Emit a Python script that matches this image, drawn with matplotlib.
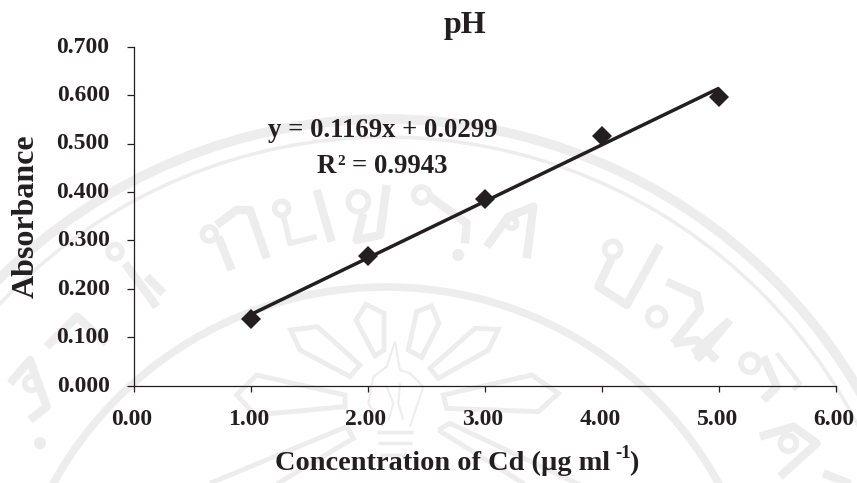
import numpy as np
import matplotlib
matplotlib.use("Agg")
import matplotlib.pyplot as plt
from matplotlib.patches import Circle, Polygon
from matplotlib.transforms import ScaledTranslation

W, H = 857, 483

# values
conc = [1.0, 2.0, 3.0, 4.0, 5.0]
absorbance = [0.137, 0.268, 0.385, 0.515, 0.597]
fit_x = [1.0, 5.0]
fit_y = [0.1468, 0.6144]
x_ticks = [0, 1, 2, 3, 4, 5, 6]
y_ticks = [0, 0.1, 0.2, 0.3, 0.4, 0.5, 0.6, 0.7]

plt.rcParams['font.family'] = ['Liberation Serif', 'DejaVu Serif']
plt.rcParams['font.weight'] = 'bold'

ink = '#231f20'
wm = '#ededed'

fig = plt.figure(figsize=(W / 100, H / 100), dpi=100)

# watermark layer, in pixel coordinates
bg = fig.add_axes([0, 0, 1, 1], zorder=0)
bg.set_xlim(0, W)
bg.set_ylim(H, 0)
bg.axis('off')
cx, cy = 386, 667
bg.add_patch(Circle((cx, cy), 548, fill=False, ec=wm, lw=7))
bg.add_patch(Circle((cx, cy), 530, fill=False, ec=wm, lw=2.5))
bg.add_patch(Circle((cx, cy), 380, fill=False, ec=wm, lw=5.5))

def petal(pts):
    pts = [(230 + a / 3, 270 + b / 3) for a, b in pts]
    bg.add_patch(Polygon(pts, closed=True, fill=False, ec=wm, lw=3.5, joinstyle='miter'))

petal([(378, 150), (408, 103), (462, 130), (462, 240), (435, 258)])
petal([(535, 240), (560, 125), (605, 108), (627, 160), (575, 262)])
petal([(182, 180), (262, 170), (390, 285), (360, 320), (210, 240)])
petal([(600, 295), (735, 175), (805, 178), (775, 240), (625, 325)])
petal([(20, 375), (80, 315), (345, 375), (345, 410), (75, 435)])
petal([(640, 375), (905, 315), (985, 370), (925, 425), (650, 415)])
petal([(-60, 640), (350, 470), (370, 505), (60, 690)])
petal([(625, 480), (660, 460), (1040, 640), (960, 690)])

# torch
def stroke(x0, y0, pts, lw=6):
    pts = np.array(pts, dtype=float)
    bg.plot(x0 + pts[:, 0] / 3, y0 + pts[:, 1] / 3, color=wm, lw=lw, solid_capstyle='butt', solid_joinstyle='round')

def loop(x0, y0, a, b, r, lw=4):
    bg.add_patch(Circle((x0 + a / 3, y0 + b / 3), r, fill=False, ec=wm, lw=lw))

stroke(230, 270, [(495, 215), (470, 290), (430, 320), (415, 400), (460, 470)], 1.5)
stroke(230, 270, [(495, 215), (510, 300), (540, 310), (580, 350), (540, 470)], 1.5)
stroke(230, 270, [(470, 350), (490, 400), (475, 450)], 1.5)
stroke(230, 270, [(510, 340), (505, 400), (520, 450)], 1.5)
stroke(230, 270, [(440, 485), (550, 485)], 2.5)
stroke(230, 270, [(445, 520), (545, 520)], 2.5)
stroke(230, 270, [(450, 555), (540, 555)], 2.5)

# letters of the seal, upper left (crop x0=150, y0=160, 3x)
loop(150, 160, 178, 222, 7)
stroke(150, 160, [(200, 195), (260, 150), (300, 150), (350, 295)])
stroke(150, 160, [(205, 230), (245, 330)])
loop(150, 160, 395, 145, 7)
stroke(150, 160, [(400, 165), (420, 250), (500, 230)], 4)
stroke(150, 160, [(500, 90), (545, 245)])
loop(150, 160, 625, 125, 10)
stroke(150, 160, [(640, 160), (620, 240), (690, 225), (710, 75)])
loop(150, 160, 815, 105, 8)
stroke(150, 160, [(840, 110), (950, 190), (945, 250)])
bg.add_patch(Circle((150 + 925 / 3, 160 + 285 / 3), 6, color=wm, lw=0))
stroke(150, 160, [(1010, 260), (1075, 170), (1150, 140), (1130, 295)])
loop(150, 160, 1085, 190, 5)

# letters, upper right (crop x0=540, y0=170, 3x)
loop(540, 170, 218, 238, 8)
stroke(540, 170, [(215, 265), (175, 350), (260, 405), (360, 225)])
stroke(540, 170, [(380, 335), (470, 375), (480, 420), (400, 520)])
loop(540, 170, 350, 440, 9)
stroke(540, 170, [(400, 520), (470, 510), (530, 570)])
stroke(540, 170, [(570, 450), (470, 570)])

# letters further down on the right (crop x0=430, y0=240, 3x)
stroke(430, 240, [(890, 250), (790, 340)])
loop(430, 240, 960, 370, 9)
stroke(430, 240, [(1000, 350), (1040, 440), (1000, 480)])
stroke(430, 240, [(1040, 340), (1110, 430), (1090, 450)], 3)
stroke(430, 240, [(990, 590), (1090, 560), (1160, 610), (1050, 710)])
loop(430, 240, 1075, 610, 8)
stroke(430, 240, [(1180, 700), (1281, 740)])

# letters, lower left (crop x0=0, y0=240, 3x)
loop(0, 240, 345, 35, 7)
stroke(0, 240, [(375, 70), (470, 200)])
stroke(0, 240, [(490, 160), (440, 110)])
stroke(0, 240, [(140, 320), (230, 230), (320, 310)])
stroke(0, 240, [(30, 430), (90, 360), (140, 500), (90, 540)])
loop(0, 240, 95, 430, 7)
bg.add_patch(Circle((120 / 3, 240 + 610 / 3), 6, color=wm, lw=0))

ax = fig.add_axes([133.5 / W, 1 - 385.7 / H, (836.3 - 133.5) / W, (385.7 - 46.7) / H], zorder=1)
ax.patch.set_alpha(0)
ax.plot(fit_x, fit_y, color=ink, lw=2.5, solid_capstyle='butt')
ax.plot(conc, absorbance, ls='none', marker='D', ms=10.5, color=ink, mew=0)
ax.set_xlim(0, 6)
ax.set_ylim(0, 0.7)
ax.set_xticks(x_ticks)
ax.set_yticks(y_ticks)
ax.set_xticklabels(['%.2f' % v for v in x_ticks])
ax.set_yticklabels(['%.3f' % v for v in y_ticks])
ax.spines['top'].set_visible(False)
ax.spines['right'].set_visible(False)
for side in ['left', 'bottom']:
    ax.spines[side].set_color(ink)
    ax.spines[side].set_linewidth(0.9)
ax.tick_params(axis='y', direction='out', length=4.7, width=0.9, color=ink, labelsize=17, labelcolor=ink, pad=12.5)
ax.tick_params(axis='x', direction='out', length=4.5, width=0.9, color=ink, labelsize=17, labelcolor=ink, pad=12)

# nudge tick labels to where they sit in the original
for lab in ax.get_yticklabels():
    lab.set_transform(lab.get_transform() + ScaledTranslation(0, 1.5 / 72, fig.dpi_scale_trans))
for lab in ax.get_xticklabels():
    lab.set_transform(lab.get_transform() + ScaledTranslation(-1.5 / 72, 0, fig.dpi_scale_trans))

def label(x, y, s, size, **kw):
    fig.text(x / W, 1 - y / H, s, fontsize=size, color=ink, **kw)

label(465, 25, 'pH', 23, ha='center', va='center')
label(26, 216, 'Absorbance', 23, rotation=90, ha='center', va='center')
label(275, 470, 'Concentration of Cd (µg ml', 20.4, ha='left', va='baseline')
label(615, 458, '-1', 13.5, ha='left', va='baseline')
label(629, 470, ')', 20.4, ha='left', va='baseline')
label(382.5, 137, 'y = 0.1169x + 0.0299', 19.3, ha='center', va='baseline')
label(317, 173, 'R', 19.3, ha='left', va='baseline')
label(337, 165, '2', 11, ha='left', va='baseline')
label(447, 173, '= 0.9943', 19.3, ha='right', va='baseline')

fig.savefig('out.png', dpi=100)
